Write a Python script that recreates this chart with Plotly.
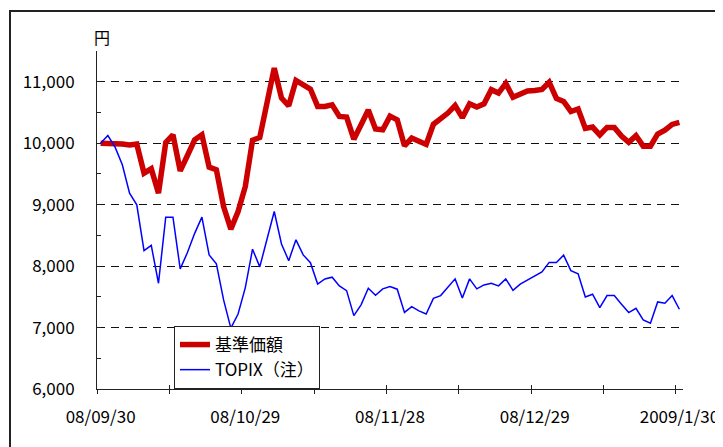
import plotly.graph_objects as go

# ---- data ----
date_labels = ["08/09/30", "08/10/29", "08/11/28", "08/12/29", "2009/1/30"]
label_index = [0, 20, 40, 60, 80]

nav = [10000, 10000, 9990, 9985, 9970, 9985, 9512, 9583, 9187, 10011, 10137,
       9550, 9800, 10055, 10137, 9611, 9567, 8969, 8601, 8888, 9295,
       10049, 10093, 10658, 11223, 10735, 10609, 11021, 10951, 10881, 10598,
       10598, 10625, 10435, 10425, 10065, 10300, 10540, 10232, 10218, 10440,
       10380, 9958, 10083, 10030, 9980, 10308, 10395, 10490, 10612, 10416,
       10642, 10588, 10640, 10870, 10815, 10972, 10748, 10788, 10850, 10858,
       10875, 10992, 10728, 10679, 10516, 10558, 10240, 10262, 10135, 10256,
       10256, 10115, 10014, 10122, 9952, 9952, 10150, 10212, 10305, 10337]

topix = [10000, 10125, 9936, 9648, 9187, 8997, 8252, 8337, 7721, 8796, 8796,
         7954, 8220, 8533, 8796, 8182, 8036, 7450, 6990, 7220, 7650,
         8275, 7987, 8427, 8888, 8360, 8088, 8427, 8182, 8055, 7708,
         7790, 7819, 7678, 7601, 7194, 7370, 7640, 7525, 7630, 7666,
         7624, 7246, 7340, 7272, 7221, 7474, 7520, 7656, 7792, 7480,
         7792, 7629, 7694, 7721, 7678, 7792, 7605, 7705, 7775, 7845,
         7906, 8060, 8057, 8178, 7927, 7873, 7498, 7542, 7324, 7520,
         7520, 7379, 7243, 7314, 7124, 7070, 7417, 7396, 7520, 7298]

y_major = [6000, 7000, 8000, 9000, 10000, 11000]
y_major_text = ["6,000", "7,000", "8,000", "9,000", "10,000", "11,000"]
y_minor = [6500, 7500, 8500, 9500, 10500, 11500]
y_range = [6000, 11500]

n = len(nav)
xs = list(range(n))
boundaries = [i - 0.5 for i in range(0, n + 1, 10)]

FONT = "Noto Sans CJK JP, Noto Sans, sans-serif"
TXT = "#000"

# the page puts the figure 8px in from the top-left corner; compensate
OFF = 8
L, T = 97 - OFF, 51 - OFF
PW, PH = 586, 338
W, H = 723, 447
R = W - L - PW
B = H - T - PH

fig = go.Figure()
fig.add_trace(go.Scatter(x=xs, y=nav, mode="lines", name="基準価額",
                         line=dict(color="#CC0000", width=5.5)))
fig.add_trace(go.Scatter(x=xs, y=topix, mode="lines", name="TOPIX（注）",
                         line=dict(color="#0000FF", width=1.5)))
# empty helper traces so the overlay axes (tick marks / labels) are drawn
fig.add_trace(go.Scatter(x=[0], y=[None], xaxis="x2", showlegend=False, hoverinfo="skip"))
fig.add_trace(go.Scatter(x=[0], y=[None], xaxis="x3", showlegend=False, hoverinfo="skip"))

xr = [-0.5, n - 0.5]
fig.update_layout(
    width=W, height=H,
    margin=dict(l=L, r=R, t=T, b=B, autoexpand=False),
    paper_bgcolor="white", plot_bgcolor="white",
    font=dict(family=FONT, size=16, color=TXT),
    showlegend=True,
    legend=dict(x=(174 - 97) / PW, y=(389 - 326) / PH, xanchor="left", yanchor="top",
                bgcolor="white", bordercolor="#222", borderwidth=1,
                font=dict(size=17, family=FONT, color=TXT),
                tracegroupgap=0, itemwidth=30),
    xaxis=dict(range=xr, tickmode="array", tickvals=boundaries, ticks="outside",
               ticklen=4, tickcolor="#222", showticklabels=False,
               showline=True, linecolor="#222", linewidth=1,
               showgrid=False, zeroline=False),
    xaxis2=dict(range=xr, overlaying="x", anchor="y", matches="x",
                tickmode="array", tickvals=boundaries, ticks="inside",
                ticklen=4, tickcolor="#222", showticklabels=False,
                showline=False, showgrid=False, zeroline=False),
    xaxis3=dict(range=xr, overlaying="x", anchor="y", matches="x",
                tickmode="array", tickvals=label_index, ticktext=date_labels,
                ticks="", showline=False, showgrid=False, zeroline=False,
                ticklabelstandoff=16,
                tickfont=dict(size=17, family=FONT, color=TXT)),
    yaxis=dict(range=y_range, tickmode="array", tickvals=y_major,
               ticktext=y_major_text, ticks="inside", ticklen=4, tickcolor="#222",
               showline=True, linecolor="#222", linewidth=1,
               showgrid=True, gridcolor="#111", gridwidth=1, griddash="8px,6px",
               zeroline=False, ticklabelstandoff=18,
               tickfont=dict(size=17, family=FONT, color=TXT),
               minor=dict(tickvals=y_minor, ticks="inside", ticklen=4,
                          tickcolor="#222", showgrid=False)),
)

fig.add_annotation(text="円", xref="paper", yref="paper",
                   x=(102 - 97) / PW, y=1 + (51 - 37) / PH,
                   xanchor="center", yanchor="middle", showarrow=False,
                   font=dict(size=16, family=FONT, color=TXT))

# outer frame of the chart image (runs off the right and bottom edges)
fig.add_shape(type="rect", xref="paper", yref="paper",
              x0=(10 - 97) / PW, x1=(760 - 97) / PW,
              y0=(389 - 480) / PH, y1=1 + (51 - 11) / PH,
              line=dict(color="#222", width=2), fillcolor="rgba(0,0,0,0)")

fig.write_html("out.html")
